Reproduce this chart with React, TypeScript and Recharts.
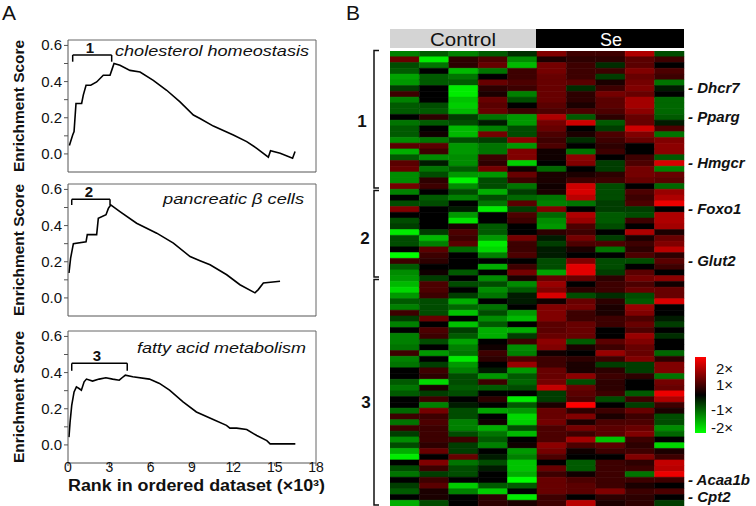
import React from "react";
import { LineChart, Line, XAxis, YAxis, ReferenceLine, BarChart, Bar, Cell } from "recharts";

const FONT = "'Liberation Sans', Arial, sans-serif";

// ---------- Panel A data ----------
const rankTicks = [0, 3, 6, 9, 12, 15, 18];
const esTicks = [0, 0.1, 0.2, 0.3, 0.4, 0.5, 0.6];

const cholRank = [0.1, 0.34, 0.44, 0.58, 0.99, 1.11, 1.31, 1.65, 2.08, 2.56, 3.05, 3.17, 3.34, 3.77, 4.5, 5.23, 6.19, 7.16, 8.13, 9.1, 9.58, 10.55, 12.0, 12.97, 13.7, 14.54, 14.7, 15.4, 16.3, 16.48];
const cholES = [0.046, 0.105, 0.123, 0.279, 0.279, 0.325, 0.38, 0.38, 0.398, 0.435, 0.435, 0.462, 0.5, 0.49, 0.462, 0.453, 0.407, 0.352, 0.288, 0.215, 0.196, 0.154, 0.105, 0.068, 0.031, -0.018, 0.018, 0.004, -0.024, 0.013];

const betaRank = [0.07, 0.19, 0.39, 1.31, 1.4, 2.08, 2.2, 2.76, 2.93, 3.1, 3.77, 4.98, 5.71, 6.44, 7.65, 8.86, 9.58, 10.31, 11.52, 12.48, 13.57, 13.81, 14.18, 15.39];
const betaES = [0.138, 0.22, 0.3, 0.31, 0.35, 0.35, 0.44, 0.46, 0.495, 0.514, 0.477, 0.413, 0.385, 0.358, 0.303, 0.229, 0.206, 0.183, 0.128, 0.073, 0.028, 0.046, 0.083, 0.092];

const fattyRank = [0.07, 0.15, 0.27, 0.44, 0.61, 0.8, 0.97, 1.17, 1.34, 1.78, 2.26, 2.75, 3.24, 3.72, 4.01, 4.16, 4.7, 5.91, 6.64, 7.37, 8.35, 9.32, 10.54, 11.5, 11.75, 12.24, 12.97, 13.7, 14.43, 14.67, 16.5];
const fattyES = [0.043, 0.126, 0.219, 0.293, 0.321, 0.312, 0.303, 0.349, 0.364, 0.353, 0.364, 0.371, 0.364, 0.358, 0.377, 0.386, 0.377, 0.364, 0.34, 0.303, 0.238, 0.182, 0.141, 0.108, 0.093, 0.093, 0.085, 0.052, 0.024, 0.006, 0.006];

// leading-edge brackets: [xStart, xEnd, yTop, yBottom]
const cholBracket = [0.34, 3.17, 0.547, 0.51];
const betaBracket = [0.27, 3.05, 0.545, 0.514];
const fattyBracket = [0.27, 4.3, 0.451, 0.41];

const panelTitles = ["cholesterol homeostasis", "pancreatic β cells", "fatty acid metabolism"];
const bracketLabels = ["1", "2", "3"];

// ---------- Panel B data (log-ratio, -2..2) ----------
const heatColumns = ["c0", "c1", "c2", "c3", "c4", "c5", "c6", "c7", "c8", "c9"];
const groupLabels = ["Control", "Se"];

const group1Rows = [
  [-0.8, -0.5, -0.8, -0.5, -0.2, 0.8, 0.3, 0.3, 1.2, -0.4],
  [0.6, -1.8, 0.2, 0.4, -0.9, 0.1, 0.2, 0.2, 0.5, 0.3],
  [-0.4, -0.7, 0.2, 0.6, -1.3, 0.7, 0.3, -0.2, 0.5, 0],
  [-0.5, 0, -1.3, -0.7, 0.3, 0.7, 0.3, 0.3, 0.8, 0.4],
  [-1.1, -0.5, -0.7, 0, 0.3, 0.6, 0.3, -0.3, 0.6, 0.3],
  [-1.0, -0.5, -0.5, 0.6, 0.4, 0.6, 0.5, 0.1, 0.7, -0.7],
  [-0.3, 0, -1.8, 0.2, 0.3, 0.6, -0.2, 0.3, 0.8, -0.1],
  [0.3, 0, -1.8, 0.1, -0.8, 0.6, 0.2, 0.7, 0.6, 0],
  [-0.8, 0, -1.4, 0.6, -0.4, 0.6, 0.2, 0.5, 1.1, -0.6],
  [-0.5, -0.4, -1.5, 0.5, 0, 0.5, 0.1, 0.5, 1.1, -0.6],
  [-0.5, -0.5, -1.3, 0.6, 0.3, 0.4, 0.4, 0.4, 0.9, -0.6],
  [0, 0.2, -0.3, -0.7, -1.0, 1.2, -0.5, 0.2, 0.6, -0.5],
  [-0.7, -0.5, -0.4, -0.1, -1.0, 0.7, 1.5, -0.5, 0.6, -0.1],
  [-0.5, 0, -1.3, -0.8, -0.4, 0.6, 0, -0.3, 1.5, 0.4],
  [-0.5, 0.05, -1.3, 0.7, -0.4, 0.4, 0.1, 0.4, 0.8, -0.7],
  [-0.9, -0.7, -0.4, -0.3, 0.9, 0.3, -0.2, 0.3, 0.6, 0.8],
  [0.5, 0.5, -1.0, -0.7, -1.0, 0.4, 0, 0.2, 0, 0.9],
  [-1.2, 0.3, -1.0, -0.7, 0.8, 0.05, -0.7, 0.3, 0, 0.9],
  [-0.5, -0.9, -0.9, 0.3, 0.8, 0.05, 0.9, 0, 0.3, -0.5],
  [0.5, -0.1, -0.9, 0.2, -1.5, 0, 0.8, -0.3, 0.4, 1.6],
  [0.6, -0.7, -0.5, 0.7, 0.05, -0.6, 0, -0.3, 0.7, -0.8],
  [-0.9, -0.4, -1.0, -1.0, 0.6, 0.1, 0.1, 0.2, 0.7, 0.6],
  [-0.9, 0.2, -1.9, -0.4, 0.3, 0.1, 0.3, 0.3, 0.6, 0.5],
  [0.7, 0.3, -0.9, -0.4, -0.7, 0.05, 1.5, -0.4, 0, -0.6],
];

const group2Rows = [
  [-0.8, 0, -0.4, -1.2, -0.3, 0.1, 1.6, -0.4, 0.4, 1.0],
  [0, -0.5, -0.8, -0.4, -0.6, -0.7, 1.3, -0.4, 0.3, 1.2],
  [-0.4, -0.4, 0, -0.7, 0.5, -0.8, -0.7, -0.3, 0.4, 1.8],
  [0.8, 0, -0.1, -1.8, -0.3, 0.8, 0, -0.3, -0.3, 0],
  [0, 0, -1.0, 0, 0.4, -0.6, 1.2, -0.5, -0.4, 1.2],
  [-0.4, 0, -1.7, 0, 0.3, -0.9, 1.0, -0.5, 0.3, 1.2],
  [-0.3, 0, 0.1, -0.5, 0, -1.0, 0.4, -0.4, 0, 1.1],
  [-1.8, -0.3, 0.4, -0.5, 0, 0.2, 0.3, 0, 1.2, 0.1],
  [-0.4, -1.3, 0.3, -1.0, 0.7, -0.1, 0.7, -0.3, 0.1, 0.6],
  [-0.4, -0.8, 0.5, -1.8, 0.3, -0.3, 0.4, 0.4, 0.3, 0.8],
  [0, 0.5, -0.6, -1.6, 0.3, -0.1, 0.1, -0.7, 0.2, 1.3],
  [-2.0, 0.3, 0, -0.8, 0.4, -0.1, 0, 0, 0.4, 0.2],
  [0.3, 0.2, 0, 0, 0, -0.4, 0.8, -0.4, -0.4, 0.5],
  [-0.5, 0, 0, -1.2, 0.3, -0.4, 1.7, -0.4, 0, 0.3],
  [-0.9, 0.05, -0.5, 0, 0.7, -1.1, 1.7, -0.3, 0.5, 0],
  [-1.0, -0.3, 0, -0.9, 0.1, 0.6, 0.6, 0.2, 0.7, 0.9],
];

const group3Rows = [
  [-1.3, 0.4, -0.4, -0.4, -0.9, 1.0, 0, 0.3, 0.4, 0.05],
  [-1.6, 0.4, 0, -0.9, -0.5, 0.8, 0.2, 0.3, 0.6, 0.6],
  [-1.0, 0.3, -0.3, -0.7, -0.1, 1.6, -0.4, -0.2, -0.4, 0.6],
  [-0.5, -0.4, -1.2, 0, -0.1, 0.05, 0.6, 0.2, -0.5, 1.6],
  [-0.8, -0.4, -0.6, -0.7, 0, 0.8, 0.7, 0.1, 1.0, 0],
  [0.3, -0.4, -1.4, -0.4, -1.0, 0.8, 0.3, 0.1, 0.8, 0],
  [-0.3, 0.6, 0, -0.9, -1.3, 0.8, 0.3, 0.3, 0.4, -0.1],
  [-0.8, 0, -1.4, -0.5, 0, 0.5, 0.6, 0.3, 0.6, -0.3],
  [0, 0.4, -0.3, -1.2, -1.2, 0.5, 0.6, 0, 0.4, 0],
  [-0.8, 0.3, -0.5, -1.2, -0.3, 0.6, 0.6, 0, 1.0, -0.2],
  [-0.8, -0.4, -1.1, 0, 0.3, 0.9, -0.5, 0.5, 0.8, 0],
  [-0.7, 0, -0.8, 0.05, -0.9, 0.8, 0.1, 0.3, 0.6, 0],
  [0.3, -1.0, -0.7, 0.3, -0.8, 0.05, 0, 1.0, 0.6, -0.6],
  [-0.8, 0, -1.8, 0.2, 0.4, 0.3, 0.2, 0.3, 0.8, 0.2],
  [-0.7, -0.3, -1.0, 0, 1.0, 0.3, 0.1, -0.3, -0.3, 0.8],
  [0, 0.3, -0.8, -0.1, -1.0, 0.6, 0.1, 0.2, -0.3, 0.8],
  [0, 0.2, -0.4, -1.0, -0.5, 0.6, 0.9, 0.3, 0.2, -0.7],
  [-0.5, -1.6, -0.4, 0.3, -0.6, 0.7, -0.4, 0.2, 0, 0.7],
  [-0.7, 0.1, -0.5, -0.5, -0.4, 1.4, 0.6, 0.2, 0, 0.6],
  [-0.5, -0.3, -0.4, 0, 0, -0.3, 0.5, 0.3, -0.5, 1.8],
  [0, 0.3, 0, 0.2, -1.8, -0.3, 0.4, -0.4, 0.3, 1.2],
  [0, -0.8, -0.1, 0, -0.5, 0.1, 2.0, 0, -0.3, 0.3],
  [-0.6, 0.7, -0.4, -1.1, -1.0, 0.6, 0.2, 0.3, 0.6, 0.1],
  [0.3, 0.3, -0.4, 0, -1.6, 0.6, 0.8, 0.1, 0.3, -0.4],
  [-0.7, 0.4, -0.8, 0.05, -1.5, 0.7, 0.1, 0.4, 0.4, -0.4],
  [0.3, 0.3, -0.8, -1.2, -0.4, 0.4, 0.7, 0.5, 0.6, -0.9],
  [-0.3, 0.3, -0.4, -0.7, -1.3, 0.4, 0.3, 0.5, 0.8, -0.6],
  [-0.9, 0.3, 0.3, -0.5, 0, 0.4, 1.1, -1.4, 0.3, 0],
  [-0.4, 0.2, -0.3, -0.8, 0.05, 0.9, 0.4, 0.5, 0.2, -1.6],
  [-1.2, 0.6, -0.3, 0, -1.0, 0.7, 0.05, 0.3, 0.3, 0.1],
  [-1.8, 0, 0.6, -0.1, -0.8, 0.4, 0, 0, 0.8, 0.3],
  [0, 0.8, -0.7, -0.4, -1.4, 0, -0.5, 0.3, 0.2, 1.4],
  [-0.4, 0.3, -0.4, -0.1, -1.4, 0.6, -0.5, 0.3, 0.3, 1.3],
  [-0.7, -0.3, -0.4, 0, -1.2, 0.3, 0.05, 0.3, -0.7, 1.8],
  [0, 0.3, 0, 0, -2.0, 0.6, 0.4, 0.3, 0.3, 0.3],
  [-0.3, 0.5, -1.5, -0.5, -0.5, 0.6, 0.5, 0.3, 0.1, 0],
  [-0.5, 0.1, -0.8, -1.5, 0, 0.6, 0.5, 0.8, 0.3, 0.4],
  [0, 0.1, 0, 0.2, -1.8, 0.3, 0, 0.2, 0.2, 0],
  [-1.2, -0.4, 0, 0.2, 0.1, 0.3, 1.3, 0.1, 0.2, -0.3],
];

const geneNames = ["Dhcr7", "Pparg", "Hmgcr", "Foxo1", "Glut2", "Acaa1b", "Cpt2"];
const geneRows = [6, 11, 19, 27, 36, 74, 77];
const clusterNames = ["1", "2", "3"];
const legendLabels = ["2×", "1×", "-1×", "-2×"];

// ---------- helpers ----------
function heatColor(v: number) {
  const t = Math.min(1, Math.abs(v) / 2);
  const c = Math.round(255 * Math.pow(t, 0.75));
  return v >= 0 ? `rgb(${c},0,0)` : `rgb(0,${c},0)`;
}

const heatRows = [...group1Rows, ...group2Rows, ...group3Rows];
const heatData = heatRows.map((r, i) => {
  const o: any = { row: i };
  heatColumns.forEach((c) => (o[c] = 1));
  return o;
});
const geneOfRow: Record<number, string> = {};
geneRows.forEach((r, i) => (geneOfRow[r] = geneNames[i]));

const YTick = (props: any) => {
  const { x, y, payload } = props;
  const v = payload.value;
  const major = Math.abs(Math.round(v * 10)) % 2 === 0;
  if (!major) return <g />;
  return (
    <text x={x} y={y} dy={5} textAnchor="end" fontSize={15} fill="#111" fontFamily={FONT}>
      {v.toFixed(1)}
    </text>
  );
};

const XTick = (props: any) => {
  const { x, y, payload } = props;
  return (
    <text x={x} y={y} dy={6} textAnchor="middle" fontSize={14} fill="#111" fontFamily={FONT}>
      {payload.value}
    </text>
  );
};

const GeneTick = (props: any) => {
  const { x, y, payload } = props;
  const name = geneOfRow[payload.value];
  if (!name) return <g />;
  return (
    <text x={x} y={y} dy={5} textAnchor="start" fontSize={15} fontWeight="bold" fontStyle="italic" fill="#111" fontFamily={FONT}>
      {"- " + name}
    </text>
  );
};

function EnrichPanel(props: { plotTop: number; rank: number[]; es: number[]; bracket: number[]; showX: boolean }) {
  const { plotTop, rank, es, bracket, showX } = props;
  const data = rank.map((r, i) => ({ rank: r, es: es[i] }));
  const [bx0, bx1, byT, byB] = bracket;
  const xh = showX ? 16 : 8;
  return (
    <div style={{ position: "absolute", left: 0, top: plotTop - 5 }}>
      <LineChart width={334} height={5 + 132 + xh} data={data} margin={{ top: 5, right: 18, bottom: 0, left: 0 }}>
        <XAxis
          dataKey="rank"
          type="number"
          domain={[0, 18]}
          ticks={rankTicks}
          interval={0}
          tickSize={3}
          tickMargin={0}
          height={xh}
          stroke="#555"
          tick={showX ? <XTick /> : false}
          allowDataOverflow
        />
        <YAxis
          type="number"
          domain={[-0.1, 0.63]}
          ticks={esTicks}
          interval={0}
          width={68}
          tickSize={4}
          tickMargin={2}
          stroke="#555"
          tick={<YTick />}
          allowDataOverflow
        />
        <ReferenceLine y={0.63} stroke="#666" />
        <ReferenceLine x={18} stroke="#666" />
        <ReferenceLine segment={[{ x: bx0, y: byB }, { x: bx0, y: byT }]} stroke="#000" strokeWidth={1.5} />
        <ReferenceLine segment={[{ x: bx0, y: byT }, { x: bx1, y: byT }]} stroke="#000" strokeWidth={1.5} />
        <ReferenceLine segment={[{ x: bx1, y: byT }, { x: bx1, y: byB }]} stroke="#000" strokeWidth={1.5} />
        <Line dataKey="es" type="linear" stroke="#000" strokeWidth={1.6} dot={false} isAnimationActive={false} />
      </LineChart>
    </div>
  );
}

export default function App() {
  const panelTops = [40, 184, 331];
  const titleX = [115, 163, 137];
  const titleY = [56, 204, 353];
  const titleLen = [194, 141, 169];
  const bLabelX = [90, 89, 97];
  const bLabelY = [53, 197, 361];
  const clusterY = [127, 244, 408];
  const clusterX = [362, 365, 366];
  const legendY = [374, 390, 415, 433];
  return (
    <div style={{ position: "absolute", left: 0, top: 0, width: 756, height: 506, background: "#fff", fontFamily: FONT }}>
      <EnrichPanel plotTop={panelTops[0]} rank={cholRank} es={cholES} bracket={cholBracket} showX={false} />
      <EnrichPanel plotTop={panelTops[1]} rank={betaRank} es={betaES} bracket={betaBracket} showX={false} />
      <EnrichPanel plotTop={panelTops[2]} rank={fattyRank} es={fattyES} bracket={fattyBracket} showX={true} />

      <div style={{ position: "absolute", left: 390, top: 50.5 }}>
        <BarChart layout="vertical" width={364} height={455} data={heatData} margin={{ top: 0, right: 0, bottom: 0, left: 0 }} barCategoryGap={0} barGap={0}>
          <XAxis type="number" domain={[0, 10]} hide />
          <YAxis type="category" dataKey="row" orientation="right" width={70} axisLine={false} tickLine={false} tickSize={0} tickMargin={4} interval={0} tick={<GeneTick />} />
          {heatColumns.map((c, j) => (
            <Bar key={c} dataKey={c} stackId="h" isAnimationActive={false}>
              {heatRows.map((r, i) => (
                <Cell key={i} fill={heatColor(r[j])} stroke={heatColor(r[j])} strokeWidth={0.5} />
              ))}
            </Bar>
          ))}
        </BarChart>
      </div>

      <svg width={756} height={506} style={{ position: "absolute", left: 0, top: 0, pointerEvents: "none" }} fontFamily={FONT}>
        <defs>
          <linearGradient id="legGrad" x1="0" y1="0" x2="0" y2="1">
            <stop offset="0%" stopColor="#ff0000" />
            <stop offset="50%" stopColor="#000000" />
            <stop offset="100%" stopColor="#00ff00" />
          </linearGradient>
        </defs>
        <text x={2} y={20} fontSize={21} fill="#111">A</text>
        <text x={346} y={20} fontSize={21} fill="#111">B</text>

        {panelTops.map((t, i) => (
          <g key={i}>
            <text
              transform={`translate(19,${t + 66}) rotate(-90)`}
              dy={5}
              textAnchor="middle"
              fontSize={15}
              fontWeight="bold"
              fill="#111"
              textLength={132}
              lengthAdjust="spacingAndGlyphs"
            >
              Enrichment Score
            </text>
            <text x={titleX[i]} y={titleY[i]} fontSize={15} fontStyle="italic" fill="#111" textLength={titleLen[i]} lengthAdjust="spacingAndGlyphs">
              {panelTitles[i]}
            </text>
            <text x={bLabelX[i]} y={bLabelY[i]} fontSize={15} fontWeight="bold" textAnchor="middle" fill="#111">
              {bracketLabels[i]}
            </text>
          </g>
        ))}
        <text x={68} y={491} fontSize={16} fontWeight="bold" fill="#111" textLength={257} lengthAdjust="spacingAndGlyphs">
          Rank in ordered dataset (×10³)
        </text>

        <rect x={390} y={29} width={146} height={19} fill="#d4d4d4" />
        <rect x={536} y={29} width={148} height={19} fill="#000" />
        <text x={463} y={45.5} fontSize={18} textAnchor="middle" fill="#111" textLength={66} lengthAdjust="spacingAndGlyphs">
          {groupLabels[0]}
        </text>
        <text x={611} y={45.5} fontSize={18} textAnchor="middle" fill="#fff">
          {groupLabels[1]}
        </text>

        <path d="M379,50.5 H374 V188 H379" fill="none" stroke="#111" strokeWidth={1.5} />
        <path d="M379,190.5 H374 V277 H379" fill="none" stroke="#111" strokeWidth={1.5} />
        <path d="M379,279.5 H374 V505 H379" fill="none" stroke="#111" strokeWidth={1.5} />
        {clusterNames.map((n, i) => (
          <text key={n} x={clusterX[i]} y={clusterY[i]} fontSize={17} fontWeight="bold" textAnchor="middle" fill="#111">
            {n}
          </text>
        ))}

        <rect x={695} y={357} width={11} height={76} fill="url(#legGrad)" />
        {legendLabels.map((l, i) => (
          <text key={l} x={733} y={legendY[i]} fontSize={15} textAnchor="end" fill="#111">
            {l}
          </text>
        ))}
      </svg>
    </div>
  );
}
